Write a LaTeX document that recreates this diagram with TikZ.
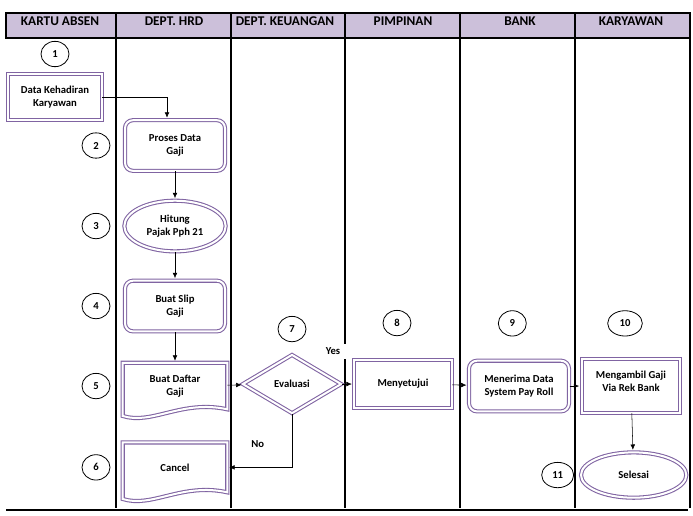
\documentclass[tikz,border=0pt]{standalone}
\usepackage{fontspec}
\setmainfont{Carlito}
\usetikzlibrary{positioning,shapes.geometric,calc,arrows.meta}
\definecolor{lilac}{RGB}{204,192,218}
\definecolor{frame}{RGB}{128,100,162}
\tikzset{every node/.style={font=\fontsize{8}{9.6}\selectfont\bfseries,align=center},
	lane/.style={font=\fontsize{10}{12}\selectfont\bfseries},
	dbl/.style={draw=frame,line width=0.8pt,double=white,double distance=1.5pt},
	numoval/.style={ellipse,draw,line width=0.6pt,minimum width=21pt,minimum height=19pt,inner sep=0pt},
	procbox/.style={dbl,rectangle,rounded corners=6pt,minimum width=75pt,minimum height=38pt},
	plainbox/.style={dbl,rectangle,minimum width=73pt,minimum height=36pt},
	docbox/.style={rectangle,minimum width=78pt,minimum height=34.5pt,inner sep=0pt},
	roundend/.style={dbl,ellipse,minimum width=76pt,minimum height=38pt,inner sep=0pt}}
% dokumen dengan sisi bawah bergelombang
\newcommand{\docoutline}[1]{%
	\draw[dbl] (#1.south east) -- (#1.north east) -- (#1.north west) -- ($(#1.south west)+(0,-5pt)$)
	.. controls ($(#1.south west)+(22pt,-12pt)$) and ($(#1.south east)+(-34pt,7.5pt)$) .. (#1.south east) -- cycle;}
\begin{document}
\begin{tikzpicture}[x=0.75pt,y=-0.75pt,on grid,>={Latex[length=4pt,width=3.5pt]},shorten >=1.5pt]
	\useasboundingbox (0,0) rectangle (693,515);
	% tabel jalur
	\draw[line width=0.8pt,fill=lilac] (6,13) rectangle (690,38);
	\foreach \x in {116,231,345,460,575,690}
		\draw[line width=0.8pt] (\x,13) -- (\x,510);
	\draw[line width=0.8pt] (6,510) -- (690,510);
	\node[lane] (hkartu) at (60,21) {KARTU ABSEN};
	\node[lane] (hhrd) at (174,21) {DEPT. HRD};
	\node[lane] (hkeu) at (285,21) {DEPT. KEUANGAN};
	\node[lane] (hpimp) at (403,21) {PIMPINAN};
	\node[lane] (hbank) at (520,21) {BANK};
	\node[lane] (hkary) at (631,21) {KARYAWAN};
	% proses
	\node[plainbox,minimum width=70pt,minimum height=35pt] (data) at (55,97) {Data Kehadiran\\Karyawan};
	\node[procbox] (proses) at (175,145.5) {Proses Data\\Gaji};
	\node[roundend,minimum height=38pt] (hitung) [below=60.4pt of proses] {Hitung\\Pajak Pph 21};
	\node[procbox] (slip) [below=60pt of hitung] {Buat Slip\\Gaji};
	\node[docbox] (daftar) [below=60pt of slip] {Buat Daftar\\Gaji};
	\node[docbox,minimum height=37pt] (cancel) [below=61pt of daftar] {Cancel};
	\node[diamond,dbl,minimum width=74pt,minimum height=44pt,inner sep=0pt] (eval) [right=87.75pt of daftar,yshift=1.5pt] {Evaluasi};
	\node[plainbox] (setuju) [right=83.25pt of eval] {Menyetujui};
	\node[procbox] (terima) [right=87pt of setuju,yshift=-1.5pt] {Menerima Data\\System Pay Roll};
	\node[plainbox,minimum width=74pt,minimum height=40pt] (ambil) [right=84pt of terima] {Mengambil Gaji\\Via Rek Bank\\[-3pt]};
	\node[roundend,minimum width=79pt,minimum height=34pt] (selesai) [below=66.75pt of ambil,xshift=2pt] {Selesai};
	\docoutline{daftar}
	\docoutline{cancel}
	% nomor langkah
	\node[numoval] (n1) [above=32.25pt of data] {1};
	\node[numoval] (n2) [left=59.25pt of proses] {2};
	\node[numoval] (n3) [left=59.25pt of hitung] {3};
	\node[numoval] (n4) [left=59.25pt of slip] {4};
	\node[numoval] (n5) [left=59.25pt of daftar] {5};
	\node[numoval] (n6) [left=59.25pt of cancel] {6};
	\node[numoval] (n7) [above=41.25pt of eval] {7};
	\node[numoval] (n8) [above=45.75pt of setuju,xshift=-4.5pt] {8};
	\node[numoval] (n9) [above=47pt of terima,xshift=-5pt] {9};
	\node[numoval,minimum width=26pt] (n10) [above=47pt of ambil,xshift=-4.5pt] {10};
	\node[numoval,minimum width=24pt] (n11) [left=57pt of selesai] {11};
	% label keputusan
	\node[fill=white,inner xsep=6pt,inner ysep=3pt] (yes) at (333,351) {Yes};
	% panah
	\draw[->] (data.east) -| ($(proses.north)+(-6pt,0)$);
	\path[->]
	(proses) edge (hitung)
	(hitung) edge (slip)
	(slip) edge (daftar)
	(daftar) edge (eval)
	(eval) edge (setuju)
	(setuju) edge (terima)
	(terima) edge (ambil)
	(ambil) edge (selesai);
	\draw[->] (eval.south) |- node[pos=0.765,above=11pt] (no) {No} (cancel.east);
\end{tikzpicture}
\end{document}
